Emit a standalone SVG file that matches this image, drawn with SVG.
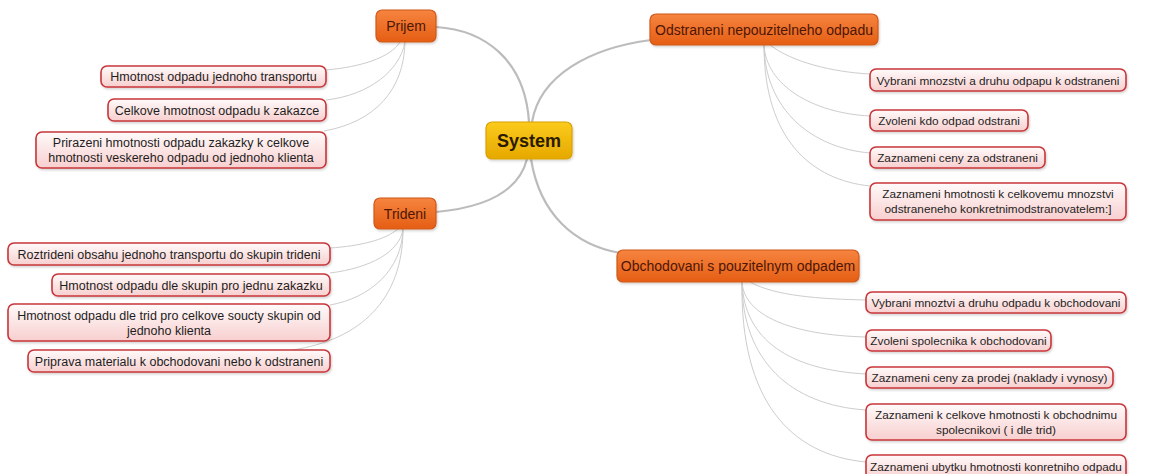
<svg xmlns="http://www.w3.org/2000/svg" width="1173" height="474" viewBox="0 0 1173 474">
<defs>
<linearGradient id="gLeaf" x1="0" y1="0" x2="0" y2="1"><stop offset="0" stop-color="#fffafa"/><stop offset="1" stop-color="#f8cfcf"/></linearGradient>
<linearGradient id="gBranch" x1="0" y1="0" x2="0" y2="1"><stop offset="0" stop-color="#f6843f"/><stop offset="1" stop-color="#e55e14"/></linearGradient>
<linearGradient id="gRoot" x1="0" y1="0" x2="0" y2="1"><stop offset="0" stop-color="#fbcb1c"/><stop offset="1" stop-color="#e6a800"/></linearGradient>
<filter id="sh" x="-10%" y="-30%" width="120%" height="160%"><feDropShadow dx="1" dy="1.5" stdDeviation="1.2" flood-color="#000" flood-opacity="0.18"/></filter>
</defs>
<style>
.leaf rect{fill:url(#gLeaf);stroke:#c8363a;stroke-width:1.6;filter:url(#sh)}
.leaf text{font-family:"Liberation Sans",Arial,sans-serif;fill:#1e1e1e;text-anchor:middle}
.l text{font-size:12.5px}
.r text{font-size:11.8px}
.branch rect{fill:url(#gBranch);stroke:#d0581a;stroke-width:1.2;filter:url(#sh)}
.branch text{font-family:"Liberation Sans",Arial,sans-serif;font-size:14px;fill:#4d1606;text-anchor:middle}
.root rect{fill:url(#gRoot);stroke:#d9a200;stroke-width:1.2;filter:url(#sh)}
.root text{font-family:"Liberation Sans",Arial,sans-serif;font-size:18px;font-weight:bold;fill:#2a1a00;text-anchor:middle}
.main{fill:none;stroke:#bcbcbc;stroke-width:2.2}
.sub{fill:none;stroke:#cdcdcd;stroke-width:1}
</style>
<rect width="1173" height="474" fill="#ffffff"/>
<g id="connectors">
<path class="main" d="M529,122 C525,60 485,30 436,27"/>
<path class="main" d="M532,122 C540,75 590,48 651,40"/>
<path class="main" d="M527,159 C518,195 480,208 436,212"/>
<path class="main" d="M531,159 C540,215 575,245 620,253"/>
<path class="sub" d="M400,42 C390,58 360,67 326,70"/>
<path class="sub" d="M405,42 C400,70 370,95 326,100"/>
<path class="sub" d="M405,42 C404,90 375,122 324,131"/>
<path class="sub" d="M398,229 C385,240 360,246 330,248"/>
<path class="sub" d="M403,229 C400,252 370,268 330,273"/>
<path class="sub" d="M403,229 C402,270 370,298 330,305"/>
<path class="sub" d="M403,229 C403,300 360,340 292,350"/>
<path class="sub" d="M770,45 C792,62 832,72 870,74"/>
<path class="sub" d="M764,45 C766,85 812,113 870,116"/>
<path class="sub" d="M764,45 C765,110 812,148 870,153"/>
<path class="sub" d="M764,45 C764,140 812,180 870,186"/>
<path class="sub" d="M750,282 C775,296 820,299 866,300"/>
<path class="sub" d="M742,282 C744,315 790,335 866,337"/>
<path class="sub" d="M742,282 C744,340 790,370 866,374"/>
<path class="sub" d="M742,282 C742,360 790,405 866,410"/>
<path class="sub" d="M742,282 C740,400 790,455 866,462"/>
</g>
<g id="system" class="root"><rect x="486" y="122" width="86" height="37" rx="6"/><text x="529" y="147">System</text></g>
<g id="prijem" class="branch"><rect x="376" y="10" width="60" height="32" rx="6"/><text x="406" y="31">Prijem</text></g>
<g id="trideni" class="branch"><rect x="374" y="198" width="62" height="31" rx="6"/><text x="405" y="218.5">Trideni</text></g>
<g id="odstraneni" class="branch"><rect x="650" y="14" width="228" height="31" rx="6"/><text x="764" y="34.5">Odstraneni nepouzitelneho odpadu</text></g>
<g id="obchodovani" class="branch"><rect x="617" y="250" width="242" height="32" rx="6"/><text x="738" y="271">Obchodovani s pouzitelnym odpadem</text></g>
<g id="p1" class="leaf l"><rect x="101" y="66" width="225" height="21" rx="6"/><text x="213.5" y="81">Hmotnost odpadu jednoho transportu</text></g>
<g id="p2" class="leaf l"><rect x="108" y="99" width="218" height="22" rx="6"/><text x="217" y="114.5">Celkove hmotnost odpadu k zakazce</text></g>
<g id="p3" class="leaf l"><rect x="36" y="132" width="290" height="36" rx="6"/><text x="181" y="147">Prirazeni hmotnosti odpadu zakazky k celkove</text><text x="181" y="162">hmotnosti veskereho odpadu od jednoho klienta</text></g>
<g id="t1" class="leaf l"><rect x="8" y="243" width="322" height="22" rx="6"/><text x="169" y="258.5">Roztrideni obsahu jednoho transportu do skupin trideni</text></g>
<g id="t2" class="leaf l"><rect x="52" y="274" width="278" height="22" rx="6"/><text x="191" y="289.5">Hmotnost odpadu dle skupin pro jednu zakazku</text></g>
<g id="t3" class="leaf l"><rect x="8" y="304" width="322" height="37" rx="6"/><text x="169" y="319.5">Hmotnost odpadu dle trid pro celkove soucty skupin od</text><text x="169" y="334.5">jednoho klienta</text></g>
<g id="t4" class="leaf l"><rect x="28" y="350" width="302" height="22" rx="6"/><text x="179" y="365.5">Priprava materialu k obchodovani nebo k odstraneni</text></g>
<g id="o1" class="leaf r"><rect x="870" y="69" width="256" height="22" rx="6"/><text x="998" y="84.5">Vybrani mnozstvi a druhu odpapu k odstraneni</text></g>
<g id="o2" class="leaf r"><rect x="870" y="110" width="158" height="21" rx="6"/><text x="949" y="124.5">Zvoleni kdo odpad odstrani</text></g>
<g id="o3" class="leaf r"><rect x="870" y="147" width="175" height="21" rx="6"/><text x="957.5" y="161.5">Zaznameni ceny za odstraneni</text></g>
<g id="o4" class="leaf r"><rect x="870" y="183" width="256" height="37" rx="6"/><text x="998" y="198">Zaznameni hmotnosti k celkovemu mnozstvi</text><text x="998" y="213">odstraneneho konkretnimodstranovatelem:]</text></g>
<g id="b1" class="leaf r"><rect x="866" y="292" width="260" height="21" rx="6"/><text x="996" y="306.5">Vybrani mnoztvi a druhu odpadu k obchodovani</text></g>
<g id="b2" class="leaf r"><rect x="866" y="330" width="185" height="21" rx="6"/><text x="958.5" y="344.5">Zvoleni spolecnika k obchodovani</text></g>
<g id="b3" class="leaf r"><rect x="866" y="367" width="247" height="21" rx="6"/><text x="989.5" y="381.5">Zaznameni ceny za prodej (naklady i vynosy)</text></g>
<g id="b4" class="leaf r"><rect x="866" y="404" width="260" height="36" rx="6"/><text x="996" y="418.5">Zaznameni k celkove hmotnosti k obchodnimu</text><text x="996" y="433.5">spolecnikovi ( i dle trid)</text></g>
<g id="b5" class="leaf r"><rect x="866" y="455" width="260" height="25" rx="6"/><text x="996" y="470.5">Zaznameni ubytku hmotnosti konretniho odpadu</text></g>
</svg>
